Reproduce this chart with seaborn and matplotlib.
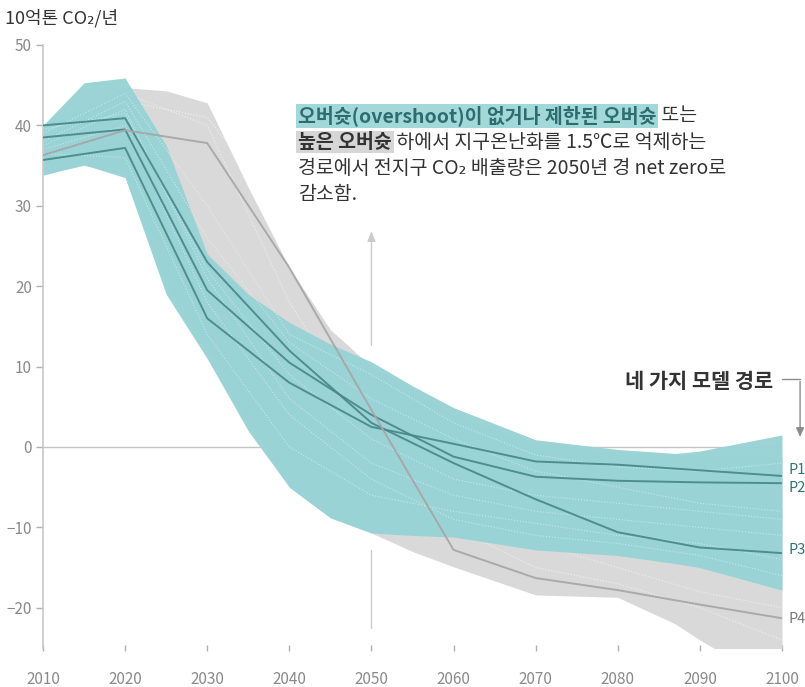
import numpy as np
import pandas as pd
import matplotlib
matplotlib.use("Agg")
import matplotlib.pyplot as plt
import seaborn as sns

# ---------------- data ----------------
years_band = [2010, 2015, 2020, 2025, 2030, 2035, 2040, 2045, 2050, 2055, 2060, 2070, 2080, 2087, 2090, 2100]
teal_upper = [40.0, 45.3, 45.9, 37.5, 24.0, 19.0, 15.5, 12.8, 10.6, 7.6, 4.9, 0.9, -0.3, -0.8, -0.5, 1.5]
teal_lower = [33.8, 35.1, 33.5, 19.0, 11.0, 2.0, -5.0, -8.8, -10.7, -11.0, -11.2, -12.8, -13.5, -14.5, -15.0, -17.8]
gray_upper = [40.0, 42.0, 44.7, 44.3, 42.8, 32.3, 22.3, 14.6, 10.0, 7.0, 4.0, 0.4, -0.6, -1.0, -1.0, -1.2]
gray_lower = [34.0, 35.0, 34.0, 20.0, 12.0, 3.0, -5.0, -8.8, -10.7, -13.0, -14.9, -18.4, -18.7, -22.0, -24.0, -30.0]

years = [2010, 2020, 2030, 2040, 2050, 2060, 2070, 2080, 2090, 2100]
p1 = [35.7, 37.2, 16.0, 8.0, 2.5, 0.4, -1.8, -2.2, -2.9, -3.6]
p2 = [38.5, 39.5, 19.5, 10.5, 4.0, -1.2, -3.7, -4.2, -4.4, -4.5]
p3 = [40.0, 40.9, 23.0, 12.0, 3.0, -2.0, -6.5, -10.6, -12.5, -13.2]
p4 = [36.3, 39.4, 37.8, 22.3, 4.6, -12.8, -16.3, -17.8, -19.6, -21.3]
path_names = ["P1", "P2", "P3", "P4"]

# faint individual scenarios (approximate)
teal_scen = [
    [39.0, 44.0, 30.0, 14.0, 9.0, 3.0, -1.0, -2.5, -3.0, -2.0],
    [37.5, 42.0, 21.0, 6.0, -2.0, -6.0, -8.0, -9.0, -10.0, -11.0],
    [36.5, 36.0, 14.0, 0.0, -6.0, -8.0, -9.5, -11.0, -12.0, -14.0],
    [38.0, 43.0, 26.0, 13.0, 6.0, 1.0, -3.0, -5.0, -7.0, -8.0],
    [37.0, 40.0, 18.0, 4.0, -4.0, -9.0, -11.0, -12.0, -13.5, -16.0],
    [39.5, 41.5, 22.0, 9.0, 1.0, -4.0, -6.0, -7.0, -8.0, -9.0],
]
gray_scen = [
    [37.0, 43.0, 41.0, 28.0, 8.0, -10.0, -15.0, -17.0, -20.0, -24.0],
    [38.0, 44.0, 40.0, 18.0, 2.0, -8.0, -12.0, -15.0, -18.0, -20.0],
]

# ---------------- style ----------------
sns.set_theme(style="white")
plt.rcParams["font.family"] = ["Noto Sans CJK KR", "DejaVu Sans"]

TEAL = "#98d3d5"
GRAY = "#d9d9d9"
LINE_TEAL = "#47878a"
LINE_GRAY = "#a6a6a6"
TICK = "#8a8a8a"

fig = plt.figure(figsize=(8.05, 6.87), dpi=100)
ax = fig.add_axes([43 / 805, 1 - 648 / 687, (782 - 43) / 805, (648 - 45) / 687])

# zero line (behind bands)
ax.axhline(0, color="#c4c4c4", lw=1.0, zorder=0.8)

# bands
ax.fill_between(years_band, gray_lower, gray_upper, color=GRAY, lw=0, zorder=1)
ax.fill_between(years_band, teal_lower, teal_upper, color=TEAL, lw=0, alpha=0.96, zorder=2)

for s in gray_scen:
    ax.plot(years, s, color="white", lw=0.8, ls=":", alpha=0.6, zorder=1.5)
for s in teal_scen:
    ax.plot(years, s, color="white", lw=0.8, ls=":", alpha=0.45, zorder=2.5)

# model paths
df = pd.DataFrame({
    "year": years * 4,
    "value": p1 + p2 + p3 + p4,
    "path": sum([[n] * len(years) for n in path_names], []),
})
palette = {"P1": LINE_TEAL, "P2": LINE_TEAL, "P3": LINE_TEAL, "P4": LINE_GRAY}
sns.lineplot(data=df, x="year", y="value", hue="path", palette=palette,
             legend=False, ax=ax, linewidth=1.4, alpha=0.92, zorder=3)

# path labels
label_y = {"P1": -2.9, "P2": -5.1, "P3": -12.8, "P4": -21.4}
for n in path_names:
    ax.text(2100.8, label_y[n], n, color=("#7a7a7a" if n == "P4" else "#2f7576"),
            fontsize=10.5, va="center", ha="left", clip_on=False)

# arrow at 2050
ax.plot([2050, 2050], [-12.8, -22.5], color="#cccccc", lw=1.0, zorder=0.5)
ax.annotate("", xy=(2050, 27.2), xytext=(2050, 12.3),
            arrowprops=dict(arrowstyle="-|>,head_length=0.5,head_width=0.2",
                            color="#cccccc", lw=1.0), zorder=0.5)

# four model paths label + bracket arrow
ax.text(2098.9, 8.2, "네 가지 모델 경로", fontsize=15, fontweight="bold",
        color="#333333", ha="right", va="center")
ax.plot([2100.0, 2102.2], [8.5, 8.5], color="#8c8c8c", lw=1.0, clip_on=False)
ax.annotate("", xy=(2102.2, 0.9), xytext=(2102.2, 8.5),
            arrowprops=dict(arrowstyle="-|>,head_length=0.45,head_width=0.2",
                            color="#8c8c8c", lw=1.0), annotation_clip=False)

# axes styling
ax.set_xlim(2010, 2100)
ax.set_ylim(-25, 50)
ax.set_xticks(list(range(2010, 2101, 10)))
ax.set_yticks([-20, -10, 0, 10, 20, 30, 40, 50])
ax.set_xlabel("")
ax.set_ylabel("")
for side in ["top", "right", "bottom"]:
    ax.spines[side].set_visible(False)
ax.spines["left"].set_color("#c8c8c8")
ax.spines["left"].set_linewidth(1.2)
ax.tick_params(axis="y", colors="#b0b0b0", labelcolor=TICK, labelsize=11,
               length=5, width=1, direction="out", pad=3, left=True)
ax.tick_params(axis="x", colors="#b0b0b0", labelcolor=TICK, labelsize=11,
               length=5, width=1, direction="inout", pad=14, bottom=True)
ax.set_facecolor("white")

# title
fig.text(5 / 805, 1 - 18 / 687, "10억톤 CO₂/년", fontsize=13, color="#333333",
         ha="left", va="center")

# annotation text with highlighted pieces
fig.canvas.draw()
renderer = fig.canvas.get_renderer()

def put_pieces(x_px, y_px, pieces):
    x = x_px
    for txt, kw in pieces:
        t = fig.text(x / 805, 1 - y_px / 687, txt, ha="left", va="center",
                     fontsize=14, **kw)
        bb = t.get_window_extent(renderer=renderer)
        x += bb.width

teal_box = dict(boxstyle="square,pad=0.1", fc="#a3d8d9", ec="none")
gray_box = dict(boxstyle="square,pad=0.1", fc="#d6d6d6", ec="none")

put_pieces(298, 116, [
    ("오버슛(overshoot)이 없거나 제한된 오버슛", dict(fontweight="bold", color="#2c6e70", bbox=teal_box)),
    (" 또는", dict(color="#333333")),
])
put_pieces(298, 142, [
    ("높은 오버슛", dict(fontweight="bold", color="#333333", bbox=gray_box)),
    (" 하에서 지구온난화를 1.5℃로 억제하는", dict(color="#333333")),
])
put_pieces(298, 168, [("경로에서 전지구 CO₂ 배출량은 2050년 경 net zero로", dict(color="#333333"))])
put_pieces(298, 194, [("감소함.", dict(color="#333333"))])

fig.savefig("out.png", dpi=100, facecolor="white")
